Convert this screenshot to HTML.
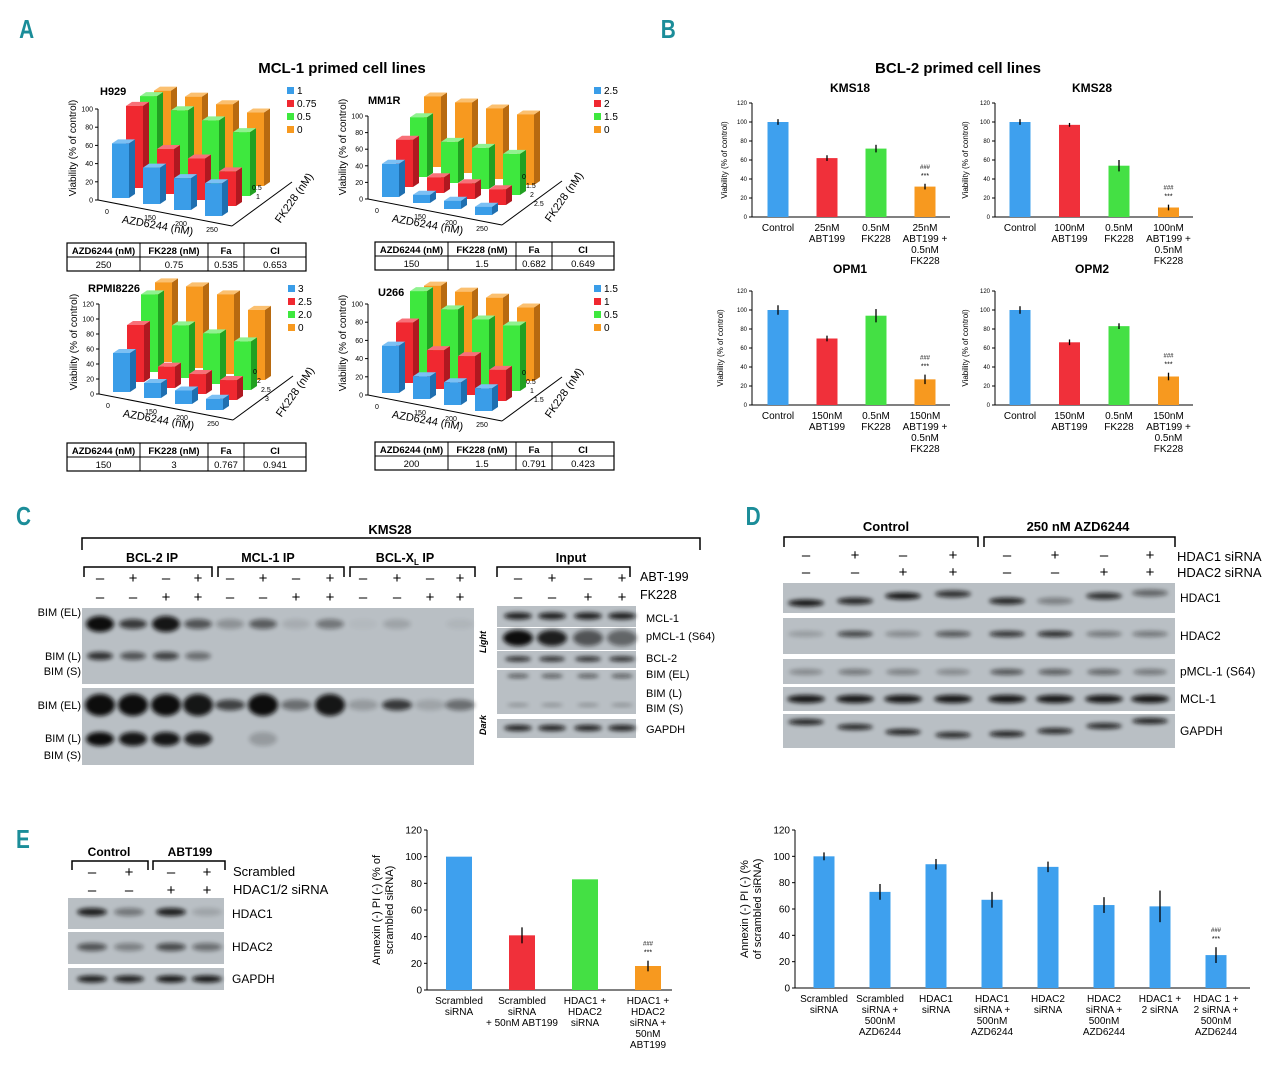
<!DOCTYPE html>
<html><head><meta charset="utf-8">
<style>
html,body{margin:0;padding:0;background:#fff;}
svg{display:block;font-family:"Liberation Sans",sans-serif;}
</style></head>
<body>
<svg id="fig" width="1280" height="1069" viewBox="0 0 1280 1069" xmlns="http://www.w3.org/2000/svg">
<defs>
<filter id="blur" x="-50%" y="-100%" width="200%" height="300%"><feGaussianBlur stdDeviation="2.2"/></filter>
</defs>
<g id="static">
<text x="24" y="38" font-size="26" font-weight="bold" fill="#1b8d99" transform="scale(0.8,1)">A</text>
<text x="826" y="38" font-size="26" font-weight="bold" fill="#1b8d99" transform="scale(0.8,1)">B</text>
<text x="20" y="525" font-size="26" font-weight="bold" fill="#1b8d99" transform="scale(0.8,1)">C</text>
<text x="932" y="525" font-size="26" font-weight="bold" fill="#1b8d99" transform="scale(0.8,1)">D</text>
<text x="20" y="848" font-size="26" font-weight="bold" fill="#1b8d99" transform="scale(0.8,1)">E</text>
<text x="342" y="73" font-size="15" font-weight="bold" text-anchor="middle">MCL-1 primed cell lines</text>
<text x="958" y="73" font-size="15" font-weight="bold" text-anchor="middle">BCL-2 primed cell lines</text>
</g>
</svg>
<script>
const NS='http://www.w3.org/2000/svg';
const svg=document.getElementById('fig');
function el(tag,attrs,parent,txt){const e=document.createElementNS(NS,tag);for(const k in attrs)e.setAttribute(k,attrs[k]);if(txt!==undefined)e.textContent=txt;(parent||svg).appendChild(e);return e;}

// ===== Panel A data =====
const a3dCategories=['0','150','200','250'];
const h929Series=[[60,40,35,36],[95,52,48,40],[100,90,85,78],[100,100,98,95]];
const h929Legend=['1','0.75','0.5','0'];
const mm1rSeries=[[40,10,10,10],[60,20,20,20],[80,55,55,55],[100,100,100,100]];
const mm1rLegend=['2.5','2','1.5','0'];
const rpmiSeries=[[52,20,18,15],[80,30,28,28],[115,78,75,72],[125,128,125,110]];
const rpmiLegend=['3','2.5','2.0','0'];
const u266Series=[[52,25,25,25],[70,45,45,36],[100,85,80,80],[100,100,100,95]];
const u266Legend=['1.5','1','0.5','0'];
const h929Ticks=[0,20,40,60,80,100];
const rpmiTicks=[0,20,40,60,80,100,120];
const colsFront=['#3a9de8','#f02830','#3ee83e','#f7991f'];
const colsSide=['#1f6fb0','#b01820','#22a022','#b86a10'];
const colsTop=['#7cc0f4','#f87078','#90f290','#fbc070'];

function chart3d(cfg){
  const g=el('g',{});
  
  
  const ox=cfg.ox, oy=cfg.oy, sc=cfg.scale, cs=31, dx=14, dy=-10, cy=6, bw=17, sd=6;
  const yv=v=>v*sc;
  el('line',{x1:ox-14,y1:oy+2,x2:ox-14,y2:oy+2-yv(cfg.ticks[cfg.ticks.length-1]),stroke:'#000','stroke-width':1},g);
  el('line',{x1:ox-14,y1:oy+2,x2:ox-14+4*cs+10,y2:oy+2+4*cy+2,stroke:'#000','stroke-width':1},g);
  el('line',{x1:ox-14+4*cs+10,y1:oy+2+4*cy+2,x2:ox+4*cs+4*dx,y2:oy+4*cy+4*dy,stroke:'#000','stroke-width':1},g);
  cfg.ticks.forEach(t=>{
    const y=oy+2-yv(t);
    el('line',{x1:ox-17,y1:y,x2:ox-14,y2:y,stroke:'#000'},g);
    const tt=el('text',{x:ox-19,y:y+2.5,'font-size':7,'text-anchor':'end'},g,String(t));
    
  });
  const yt=el('text',{x:0,y:0,'font-size':10,'text-anchor':'middle',transform:`translate(${ox-36},${oy-50}) rotate(-90)`},g,'Viability (% of control)');
  
  for(let d=3;d>=0;d--){
    cfg.series[d].forEach((v,i)=>{
      const x=ox+i*cs+d*dx, b=oy+i*cy+d*dy, h=yv(v)*(1-0.05*d);
      const bg=el('g',{},g);
      
      
      el('polygon',{points:`${x+bw},${b-h} ${x+bw+sd},${b-h-4} ${x+bw+sd},${b-4} ${x+bw},${b}`,fill:colsSide[d]},bg);
      el('polygon',{points:`${x},${b-h} ${x+sd},${b-h-4} ${x+bw+sd},${b-h-4} ${x+bw},${b-h}`,fill:colsTop[d]},bg);
      el('rect',{x:x,y:b-h,width:bw,height:h,fill:colsFront[d]},bg);
    });
  }
  a3dCategories.forEach((c,i)=>{
    const t=el('text',{x:ox-5+i*cs+(i?12:0),y:oy+16+i*cy,'font-size':7,'text-anchor':'middle'},g,c);
    
  });
  const xt=el('text',{x:0,y:0,'font-size':11,'text-anchor':'middle',transform:`translate(${ox+45},${oy+31}) rotate(10)`},g,'AZD6244 (nM)');
  
  const zt=el('text',{x:0,y:0,'font-size':11,'text-anchor':'middle',transform:`translate(${ox+185},${oy+2}) rotate(-55)`},g,'FK228 (nM)');
  
  cfg.zlabels.forEach((z,k)=>{
    const t=el('text',{x:ox+140+k*4,y:oy-8+k*9-(cfg.zlabels.length<4?0:10),'font-size':7},g,z);
    
  });
  const tl=el('text',{x:cfg.tx,y:cfg.ty,'font-size':11,'font-weight':'bold'},g,cfg.title);
  
  cfg.legend.forEach((l,k)=>{
    const lg=el('g',{},g);
    
    el('rect',{x:cfg.lx,y:cfg.ly+k*13-7,width:7,height:7,fill:colsFront[k]},lg);
    el('text',{x:cfg.lx+10,y:cfg.ly+k*13,'font-size':10},lg,l);
  });
  const T=cfg.table, tx=cfg.tabx, ty=cfg.taby;
  const cw=[73,68,36,62];
  const tg=el('g',{},g);
  
  el('rect',{x:tx,y:ty,width:239,height:28,fill:'none',stroke:'#000','stroke-width':1.2},tg);
  el('line',{x1:tx,y1:ty+14,x2:tx+239,y2:ty+14,stroke:'#000'},tg);
  const hd=['AZD6244 (nM)','FK228 (nM)','Fa','CI'];
  let cx=tx;
  cw.forEach((w,k)=>{
    if(k)el('line',{x1:cx,y1:ty,x2:cx,y2:ty+28,stroke:'#000'},tg);
    el('text',{x:cx+w/2,y:ty+11,'font-size':9.5,'font-weight':'bold','text-anchor':'middle'},tg,hd[k]);
    el('text',{x:cx+w/2,y:ty+25,'font-size':9.5,'text-anchor':'middle'},tg,T[k]);
    cx+=w;
  });
}
chart3d({name:'h929',ox:112,oy:198,scale:0.91,series:h929Series,legend:h929Legend,ticks:h929Ticks,zlabels:['0.5','1'],title:'H929',tx:100,ty:95,lx:287,ly:94,table:['250','0.75','0.535','0.653'],tabx:67,taby:243});
chart3d({name:'mm1r',ox:382,oy:197,scale:0.83,series:mm1rSeries,legend:mm1rLegend,ticks:h929Ticks,zlabels:['0','1.5','2','2.5'],title:'MM1R',tx:368,ty:104,lx:594,ly:94,table:['150','1.5','0.682','0.649'],tabx:375,taby:242});
chart3d({name:'rpmi8226',ox:113,oy:392,scale:0.75,series:rpmiSeries,legend:rpmiLegend,ticks:rpmiTicks,zlabels:['0','2','2.5','3'],title:'RPMI8226',tx:88,ty:292,lx:288,ly:292,table:['150','3','0.767','0.941'],tabx:67,taby:443});
chart3d({name:'u266',ox:382,oy:393,scale:0.91,series:u266Series,legend:u266Legend,ticks:h929Ticks,zlabels:['0','0.5','1','1.5'],title:'U266',tx:378,ty:296,lx:594,ly:292,table:['200','1.5','0.791','0.423'],tabx:375,taby:442});

// ===== Panel B data =====
const bTicks=[0,20,40,60,80,100,120];
const kms18Values=[100,62,72,32];
const kms18Errors=[3,3,4,3];
const kms28Values=[100,97,54,10];
const kms28Errors=[3,2,6,3];
const opm1Values=[100,70,94,27];
const opm1Errors=[5,3,7,5];
const opm2Values=[100,66,83,30];
const opm2Errors=[4,3,3,4];
const kms18Labels=[['Control'],['25nM','ABT199'],['0.5nM','FK228'],['25nM','ABT199 +','0.5nM','FK228']];
const kms28Labels=[['Control'],['100nM','ABT199'],['0.5nM','FK228'],['100nM','ABT199 +','0.5nM','FK228']];
const opmLabels=[['Control'],['150nM','ABT199'],['0.5nM','FK228'],['150nM','ABT199 +','0.5nM','FK228']];
const bColors=['#3ea0ee','#f0303a','#44e044','#f7991f'];

function barChart(cfg){
  const g=el('g',{});
  
  const max=cfg.ticks[cfg.ticks.length-1];
  const ys=v=>cfg.y0-(v/max)*(cfg.y0-cfg.y1);
  const xs=i=>cfg.x0+cfg.first+i*cfg.step;
  el('line',{x1:cfg.x0,y1:cfg.y0,x2:cfg.x0,y2:cfg.y1,stroke:'#000'},g);
  el('line',{x1:cfg.x0,y1:cfg.y0,x2:cfg.x1,y2:cfg.y0,stroke:'#000'},g);
  cfg.ticks.forEach(t=>{
    el('line',{x1:cfg.x0-3,y1:ys(t),x2:cfg.x0,y2:ys(t),stroke:'#000'},g);
    const tt=el('text',{x:cfg.x0-5,y:ys(t)+cfg.fs*0.35,'font-size':cfg.fs,'text-anchor':'end'},g,String(t));
    
  });
  cfg.values.forEach((v,i)=>{
    const r=el('rect',{x:xs(i)-cfg.bw/2,y:ys(v),width:cfg.bw,height:cfg.y0-ys(v),fill:cfg.colors[i%cfg.colors.length]},g);
    
    if(cfg.errors&&cfg.errors[i]){
      const e=cfg.errors[i];
      el('line',{x1:xs(i),y1:ys(v+e),x2:xs(i),y2:ys(v-e),stroke:'#000','stroke-width':1.3},g);
    }
    cfg.labels[i].forEach((l,k)=>{
      const t=el('text',{x:xs(i),y:cfg.y0+cfg.lfs+4+k*(cfg.lfs+1),'font-size':cfg.lfs,'text-anchor':'middle'},g,l);
      
    });
  });
  if(cfg.sig!==undefined){
    const i=cfg.sig, v=cfg.values[i]+(cfg.errors?cfg.errors[i]:0);
    el('text',{x:xs(i),y:ys(v)-15,'font-size':6,'text-anchor':'middle'},g,'###');
    el('text',{x:xs(i),y:ys(v)-6,'font-size':7,'text-anchor':'middle'},g,'***');
  }
  if(cfg.title){const t=el('text',{x:cfg.tx,y:cfg.ty,'font-size':12,'font-weight':'bold','text-anchor':'middle'},g,cfg.title);
    }
  cfg.ytitle.forEach((l,k)=>{
    const t=el('text',{x:0,y:0,'font-size':cfg.yfs,'text-anchor':'middle',transform:`translate(${cfg.ytx+k*(cfg.yfs+2)},${(cfg.y0+cfg.y1)/2}) rotate(-90)`},g,l);
    
  });
}
barChart({name:'kms18',x0:752,x1:950,y0:217,y1:103,first:26,step:49,bw:21,ticks:bTicks,values:kms18Values,errors:kms18Errors,labels:kms18Labels,colors:bColors,fs:6,lfs:10,sig:3,title:'KMS18',tx:850,ty:92,ytitle:['Viability (% of control)'],ytx:727,yfs:8});
barChart({name:'kms28',x0:995,x1:1193,y0:217,y1:103,first:25,step:49.5,bw:21,ticks:bTicks,values:kms28Values,errors:kms28Errors,labels:kms28Labels,colors:bColors,fs:6,lfs:10,sig:3,title:'KMS28',tx:1092,ty:92,ytitle:['Viability (% of control)'],ytx:968,yfs:8});
barChart({name:'opm1',x0:752,x1:950,y0:405,y1:291,first:26,step:49,bw:21,ticks:bTicks,values:opm1Values,errors:opm1Errors,labels:opmLabels,colors:bColors,fs:6,lfs:10,sig:3,title:'OPM1',tx:850,ty:273,ytitle:['Viability (% of control)'],ytx:723,yfs:8});
barChart({name:'opm2',x0:995,x1:1193,y0:405,y1:291,first:25,step:49.5,bw:21,ticks:bTicks,values:opm2Values,errors:opm2Errors,labels:opmLabels,colors:bColors,fs:6,lfs:10,sig:3,title:'OPM2',tx:1092,ty:273,ytitle:['Viability (% of control)'],ytx:968,yfs:8});

// ===== Panel E charts =====
const eTicks=[0,20,40,60,80,100,120];
const e1Values=[100,41,83,18];
const e1Errors=[0,6,0,4];
const e1Labels=[['Scrambled','siRNA'],['Scrambled','siRNA','+ 50nM ABT199'],['HDAC1 +','HDAC2','siRNA'],['HDAC1 +','HDAC2','siRNA +','50nM','ABT199']];
const e2Values=[100,73,94,67,92,63,62,25];
const e2Errors=[3,6,4,6,4,6,12,6];
const e2Labels=[['Scrambled','siRNA'],['Scrambled','siRNA +','500nM','AZD6244'],['HDAC1','siRNA'],['HDAC1','siRNA +','500nM','AZD6244'],['HDAC2','siRNA'],['HDAC2','siRNA +','500nM','AZD6244'],['HDAC1 +','2 siRNA'],['HDAC 1 +','2 siRNA +','500nM','AZD6244']];
barChart({name:'annexin-hdac-abt199',x0:427,x1:672,y0:990,y1:830,first:32,step:63,bw:26,ticks:eTicks,values:e1Values,errors:e1Errors,labels:e1Labels,colors:['#3ea0ee','#f0303a','#44e044','#f7991f'],fs:10,lfs:10,sig:3,ytitle:['Annexin (-) PI (-) (% of','scrambled siRNA)'],ytx:380,yfs:11});
barChart({name:'annexin-hdac-azd6244',x0:795,x1:1250,y0:988,y1:830,first:29,step:56,bw:21,ticks:eTicks,values:e2Values,errors:e2Errors,labels:e2Labels,colors:['#3ea0ee'],fs:10,lfs:10,sig:7,ytitle:['Annexin (-) PI (-) (%','of scrambled siRNA)'],ytx:748,yfs:11});

// ===== Blots =====
function strip(name,x,y,w,h,fill){const r=el('rect',{x:x,y:y,width:w,height:h,fill:fill||'#b9bfc4'});return r;}
function band(cx,cy,w,h,op){el('ellipse',{cx:cx,cy:cy,rx:w/2,ry:h/2,fill:'#0a0a0a',opacity:op,filter:'url(#blur)'});}
function txt(x,y,s,fs,anchor,bold,name){const t=el('text',{x:x,y:y,'font-size':fs,'text-anchor':anchor||'start','font-weight':bold?'bold':'normal'},svg,s);return t;}
function bracket(x1,x2,y,h){el('path',{d:`M${x1},${y+h} V${y} H${x2} V${y+h}`,fill:'none',stroke:'#000','stroke-width':1.5});}
function pm(xs,y,signs,fs){xs.forEach((x,i)=>txt(x,y,signs[i]?'+':'–',fs||15,'middle',false,'treatment-sign'));}

// Panel C
txt(390,534,'KMS28',13,'middle',true,'kms28-title');
bracket(82,700,538,12);
txt(152,562,'BCL-2 IP',12.5,'middle',true,'bcl2-ip-label');
txt(268,562,'MCL-1 IP',12.5,'middle',true,'mcl1-ip-label');
const bx=el('text',{x:405,y:562,'font-size':12.5,'font-weight':'bold','text-anchor':'middle'});bx.innerHTML='BCL-X<tspan font-size="8" dy="3">L</tspan><tspan dy="-3"> IP</tspan>';

txt(571,562,'Input',12.5,'middle',true,'input-label');
bracket(84,212,567,10);bracket(218,344,567,10);bracket(350,475,567,10);bracket(497,630,567,10);
const cLanes=[100,133,166,198,230,263,296,330,363,397,430,460];
const inLanes=[518,552,588,622];
const abt=[0,1,0,1], fk=[0,0,1,1];
pm(cLanes,583,abt.concat(abt,abt));pm(cLanes,602,fk.concat(fk,fk));
pm(inLanes,583,abt);pm(inLanes,602,fk);
txt(640,581,'ABT-199',12.5,'start',false,'abt199-row-label');txt(640,599,'FK228',12.5,'start',false,'fk228-row-label');
strip('ip-blot-light',82,608,392,76);strip('ip-blot-dark',82,688,392,77);
const lightEL=[1,0.75,0.95,0.6,0.25,0.55,0.1,0.4,0.03,0.15,0,0.05];
const lightL=[0.8,0.6,0.7,0.45,0,0,0,0,0,0,0,0];
const darkEL=[1,1,1,0.95,0.7,1,0.45,0.95,0.2,0.75,0.15,0.45];
const darkL=[1,0.95,0.95,0.9,0,0.2,0,0,0,0,0,0];
cLanes.forEach((x,i)=>{band(x,624,28,lightEL[i]>0.8?16:10,lightEL[i]);band(x,656,26,8,lightL[i]);band(x,705,30,darkEL[i]>0.9?22:11,darkEL[i]);band(x,739,28,14,darkL[i]);});
txt(81,616,'BIM (EL)',11,'end');txt(81,660,'BIM (L)',11,'end');txt(81,675,'BIM (S)',11,'end');
txt(81,709,'BIM (EL)',11,'end');txt(81,742,'BIM (L)',11,'end');txt(81,759,'BIM (S)',11,'end');
const lt=el('text',{x:0,y:0,'font-size':9,'font-weight':'bold','font-style':'italic','text-anchor':'middle',transform:'translate(486,642) rotate(-90)'},svg,'Light');
const dk=el('text',{x:0,y:0,'font-size':9,'font-weight':'bold','font-style':'italic','text-anchor':'middle',transform:'translate(486,725) rotate(-90)'},svg,'Dark');
const inStrips=[['mcl1',606,21],['pmcl1',628,22],['bcl2',651,17],['bim',670,44],['gapdh',719,19]];
inStrips.forEach(s=>strip('input-'+s[0]+'-blot',497,s[1],139,s[2]));
inLanes.forEach((x,i)=>{band(x,616,28,7,0.9);band(x,638,30,16,[1,0.9,0.6,0.5][i]);band(x,659,26,5,0.85);band(x,676,22,4,0.6);band(x,705,22,3,0.3);band(x,728,28,6,0.9);});
txt(646,622,'MCL-1',11);txt(646,640,'pMCL-1 (S64)',11);txt(646,662,'BCL-2',11);txt(646,678,'BIM (EL)',11);txt(646,697,'BIM (L)',11);txt(646,712,'BIM (S)',11);txt(646,733,'GAPDH',11);

// Panel D
txt(886,531,'Control',13,'middle',true,'control-group-label');txt(1078,531,'250 nM AZD6244',13,'middle',true,'azd6244-group-label');
bracket(784,978,537,10);bracket(984,1175,537,10);
const dLanes=[806,855,903,953,1007,1055,1104,1150];
pm(dLanes,560,[0,1,0,1,0,1,0,1]);pm(dLanes,577,[0,0,1,1,0,0,1,1]);
txt(1177,561,'HDAC1 siRNA',13,'start',false,'hdac1-sirna-row-label');txt(1177,577,'HDAC2 siRNA',13,'start',false,'hdac2-sirna-row-label');
const dStrips=[['hdac1',583,30,'HDAC1'],['hdac2',618,36,'HDAC2'],['pmcl1',659,25,'pMCL-1 (S64)'],['mcl1',687,24,'MCL-1'],['gapdh',714,34,'GAPDH']];
dStrips.forEach(s=>{strip('d-'+s[0]+'-blot',783,s[1],392,s[2]);txt(1180,s[1]+s[2]/2+4,s[3],12,'start',false,s[0]+'-label');});
const dH1=[0.95,0.85,0.95,0.8,0.85,0.35,0.8,0.5], dH1y=[603,601,596,594,601,601,596,593];
const dH2=[0.2,0.7,0.3,0.6,0.8,0.85,0.4,0.4];
const dP=[0.3,0.4,0.35,0.3,0.6,0.55,0.5,0.4];
const dG=[0.9,0.85,0.9,0.85,0.9,0.85,0.85,0.9], dGy=[722,727,732,735,734,731,726,721];
dLanes.forEach((x,i)=>{band(x,dH1y[i],36,7,dH1[i]);band(x,634,36,6,dH2[i]);band(x,672,34,6,dP[i]);band(x,699,38,8,0.95);band(x,dGy[i],36,6,dG[i]);});

// Panel E blot
txt(109,856,'Control',12,'middle',true,'e-control-label');txt(190,856,'ABT199',12,'middle',true,'e-abt199-label');
bracket(72,148,861,9);bracket(153,225,861,9);
const eLanes=[92,129,171,207];
pm(eLanes,877,[0,1,0,1]);pm(eLanes,895,[0,0,1,1]);
txt(233,876,'Scrambled',13,'start',false,'scrambled-row-label');txt(233,894,'HDAC1/2 siRNA',13,'start',false,'hdac12-sirna-row-label');
strip('e-hdac1-blot',68,898,156,31);strip('e-hdac2-blot',68,932,156,32);strip('e-gapdh-blot',68,968,156,22);
txt(232,918,'HDAC1',12);txt(232,951,'HDAC2',12);txt(232,983,'GAPDH',12);
[0.9,0.4,0.9,0.15].forEach((o,i)=>band(eLanes[i],912,30,8,o));
[0.6,0.35,0.65,0.45].forEach((o,i)=>band(eLanes[i],947,30,8,o));
[0.9,0.9,0.95,0.95].forEach((o,i)=>band(eLanes[i],979,30,7,o));
</script>
</body></html>
